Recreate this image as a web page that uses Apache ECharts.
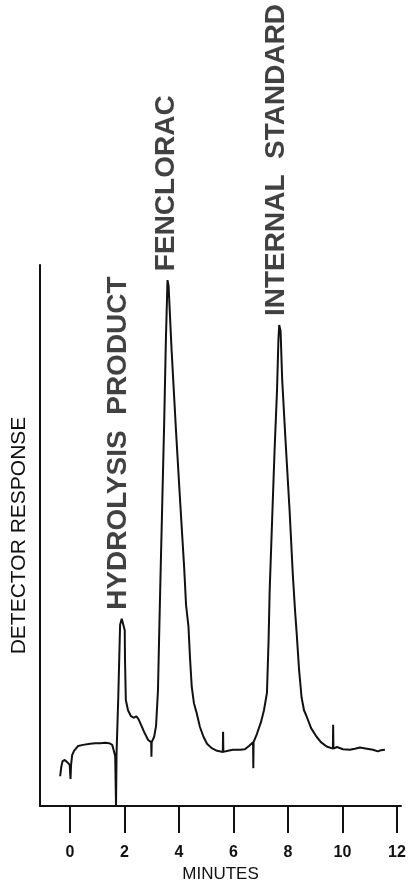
<!DOCTYPE html>
<html>
<head>
<meta charset="utf-8">
<script src="https://cdn.jsdelivr.net/npm/echarts@6/dist/echarts.min.js"></script>
<style>
  html, body { margin: 0; padding: 0; background: #fff; }
  #chart { width: 411px; height: 884px; }
</style>
</head>
<body>
<div id="chart"></div>
<script>
// trace (time in minutes, response in arbitrary units)
var traceTime = [
  -0.36, -0.32, -0.27, -0.19, -0.10, -0.01, 0.02, 0.04, 0.08, 0.15,
  0.30, 0.48, 0.74, 0.92, 1.11, 1.29, 1.44, 1.55, 1.60, 1.66,
  1.69, 1.71, 1.77, 1.84, 1.90, 1.95, 2.01, 2.02, 2.05, 2.13,
  2.24, 2.35, 2.43, 2.51, 2.61, 2.72, 2.87, 2.98, 2.99, 3.00,
  3.09, 3.16, 3.23, 3.27, 3.32, 3.39, 3.46, 3.52, 3.56, 3.58,
  3.62, 3.73, 3.89, 4.04, 4.19, 4.26, 4.35, 4.41, 4.47, 4.55,
  4.65, 4.77, 4.90, 5.03, 5.20, 5.40, 5.61, 5.62, 5.63, 5.80,
  5.98, 6.24, 6.42, 6.57, 6.72, 6.73, 6.74, 6.86, 7.01, 7.12,
  7.23, 7.29, 7.33, 7.42, 7.51, 7.60, 7.65, 7.68, 7.73, 7.79,
  7.91, 8.06, 8.18, 8.26, 8.32, 8.41, 8.50, 8.59, 8.69, 8.85,
  9.05, 9.21, 9.42, 9.65, 9.66, 9.67, 9.80, 10.02, 10.27, 10.46,
  10.64, 10.90, 11.12, 11.30, 11.41, 11.56
];
var traceResponse = [
  5.5, 7.2, 8.3, 8.5, 8.1, 7.6, 5.0, 7.6, 9.4, 10.2,
  11.1, 11.3, 11.5, 11.6, 11.6, 11.7, 11.6, 11.3, 10.4, 9.2,
  0.0, 9.8, 19.6, 33.5, 34.6, 34.4, 32.5, 27.0, 19.6, 17.7,
  16.6, 16.3, 16.6, 16.1, 15.0, 13.7, 12.2, 11.8, 9.1, 11.8,
  12.8, 14.8, 21.4, 30.7, 41.8, 56.6, 71.3, 86.1, 93.5, 97.2,
  96.1, 84.3, 69.5, 56.6, 44.2, 37.2, 33.1, 27.0, 22.0, 19.0,
  17.2, 14.6, 12.8, 11.5, 10.7, 10.2, 10.0, 13.7, 10.0, 10.2,
  10.4, 10.4, 10.5, 11.1, 11.8, 7.0, 11.8, 13.3, 15.5, 17.7,
  20.9, 30.7, 39.9, 52.9, 65.8, 76.9, 86.1, 88.9, 87.8, 78.7,
  67.7, 54.7, 42.7, 36.2, 32.0, 25.1, 20.1, 17.7, 16.5, 14.4,
  12.8, 11.8, 11.0, 10.6, 15.0, 10.6, 10.9, 10.5, 10.4, 10.6,
  10.8, 10.6, 10.4, 10.1, 10.3, 10.4
];

// peak labels
var peakNames = ['HYDROLYSIS  PRODUCT', 'FENCLORAC', 'INTERNAL  STANDARD'];
var peakTimes = [1.78, 3.53, 7.57];
var peakTops = [34.6, 97.2, 88.9];

var xTicks = [0, 2, 4, 6, 8, 10, 12];

var FONT = '"Liberation Sans", Arial, Helvetica, sans-serif';

var traceData = traceTime.map(function (t, i) { return [t, traceResponse[i]]; });
var labelData = peakTimes.map(function (t, i) {
  return { value: [t, peakTops[i]], name: peakNames[i] };
});

var myChart = echarts.init(document.getElementById('chart'));
var option = {
  backgroundColor: '#fff',
  animation: false,
  grid: {
    left: 40,
    right: 10,
    top: 265,
    bottom: 78,
    containLabel: false,
    outerBoundsMode: 'none'
  },
  xAxis: {
    type: 'value',
    min: -1.1,
    max: 12.15,
    name: 'MINUTES',
    nameLocation: 'middle',
    nameGap: 59,
    nameTextStyle: { color: '#111', fontSize: 17, fontFamily: FONT },
    splitLine: { show: false },
    axisLine: { show: true, onZero: false, lineStyle: { color: '#111', width: 2 } },
    axisTick: {
      show: true,
      customValues: xTicks,
      length: 27,
      lineStyle: { color: '#111', width: 2 }
    },
    axisLabel: {
      customValues: xTicks,
      margin: 39,
      color: '#111',
      fontSize: 16,
      fontWeight: 'bold',
      fontFamily: FONT
    }
  },
  yAxis: {
    type: 'value',
    min: 0,
    max: 100,
    name: 'DETECTOR RESPONSE',
    nameLocation: 'middle',
    nameGap: 10,
    nameTextStyle: { color: '#111', fontSize: 21, fontFamily: FONT },
    splitLine: { show: false },
    axisLine: { show: true, onZero: false, lineStyle: { color: '#111', width: 2 } },
    axisTick: { show: false },
    axisLabel: { show: false }
  },
  series: [
    {
      name: 'trace',
      type: 'line',
      data: traceData,
      showSymbol: false,
      symbol: 'none',
      smooth: false,
      lineStyle: { color: '#111', width: 2 },
      z: 3
    },
    {
      name: 'peaks',
      type: 'scatter',
      data: labelData,
      symbolSize: 0,
      label: {
        show: true,
        formatter: '{b}',
        rotate: 90,
        position: 'top',
        align: 'left',
        verticalAlign: 'middle',
        distance: 9,
        color: '#111',
        fontSize: 28,
        fontWeight: 'bold',
        fontFamily: FONT
      }
    }
  ]
};
myChart.setOption(option);
</script>
</body>
</html>
